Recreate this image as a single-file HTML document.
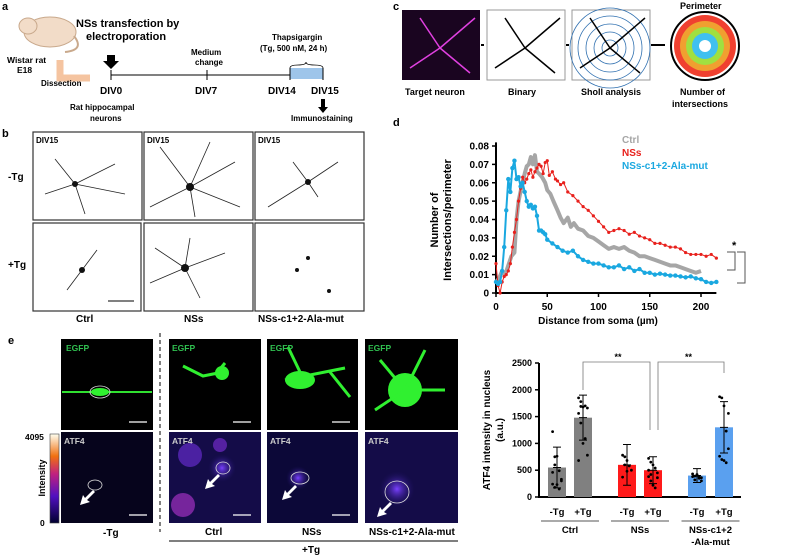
<!DOCTYPE html>
<html><head><meta charset="utf-8"><style>
body{margin:0;background:#fff}
svg{display:block;font-family:"Liberation Sans",Arial,sans-serif;font-weight:bold}
</style></head><body>
<svg id="fig" width="793" height="555" viewBox="0 0 793 555">
<defs>
<linearGradient id="cb" x1="0" y1="1" x2="0" y2="0"><stop offset="0" stop-color="#000030"/><stop offset="0.3" stop-color="#5010c0"/><stop offset="0.55" stop-color="#c02080"/><stop offset="0.75" stop-color="#f07010"/><stop offset="1" stop-color="#fffff0"/></linearGradient>
<radialGradient id="rg"><stop offset="0" stop-color="#7a40ff"/><stop offset="1" stop-color="#1a1060" stop-opacity="0"/></radialGradient>
</defs>
<!-- panel a -->
<g>
<text x="2" y="10" font-size="11">a</text>
<ellipse cx="50" cy="32" rx="26" ry="15" fill="#f2dcc8" stroke="#c9a98c"/>
<ellipse cx="28" cy="26" rx="9" ry="8" fill="#f2dcc8" stroke="#c9a98c"/>
<path d="M74 36 Q85 50 65 52" stroke="#c9a98c" fill="none" stroke-width="2"/>
<text x="76" y="27" font-size="11">NSs transfection by</text>
<text x="86" y="40" font-size="11">electroporation</text>
<text x="7" y="63" font-size="8.5">Wistar rat</text>
<text x="17" y="73" font-size="8.5">E18</text>
<path d="M60 60 L60 78 L90 78" stroke="#f5c4a0" stroke-width="7" fill="none"/>
<text x="41" y="86" font-size="8">Dissection</text>
<path d="M107 55 h8 v6 h4 l-8 8 l-8 -8 h4z" fill="#000"/>
<line x1="111" y1="75" x2="323" y2="75" stroke="#000"/>
<rect x="290" y="68" width="33" height="11" fill="#9ec5ea"/>
<line x1="111" y1="70" x2="111" y2="80" stroke="#000"/><line x1="207" y1="70" x2="207" y2="80" stroke="#000"/><line x1="290" y1="68" x2="290" y2="80" stroke="#000"/><line x1="323" y1="68" x2="323" y2="80" stroke="#000"/>
<path d="M290 68 q0 -3 8 -3 q8 0 8 -3 q0 3 8 3 q9 0 9 3" fill="none" stroke="#000" stroke-width="0.8"/>
<text x="191" y="55" font-size="8">Medium</text><text x="195" y="65" font-size="8">change</text>
<text x="272" y="40" font-size="8">Thapsigargin</text><text x="260" y="51" font-size="8">(Tg, 500 nM, 24 h)</text>
<text x="100" y="94" font-size="10">DIV0</text><text x="195" y="94" font-size="10">DIV7</text><text x="268" y="94" font-size="10">DIV14</text><text x="311" y="94" font-size="10">DIV15</text>
<text x="70" y="110" font-size="8">Rat hippocampal</text><text x="90" y="121" font-size="8">neurons</text>
<path d="M321 99 h4 v8 h3 l-5 6 l-5 -6 h3z" fill="#000"/>
<text x="291" y="121" font-size="8">Immunostaining</text>
</g>
<!-- panel b -->
<g font-size="10">
<text x="2" y="137" font-size="11">b</text>
<text x="8" y="180">-Tg</text><text x="8" y="268">+Tg</text>
<g fill="#fff" stroke="#333" stroke-width="1.2">
<rect x="33" y="132" width="109" height="88"/>
<rect x="144" y="132" width="109" height="88"/>
<rect x="255" y="132" width="109" height="88"/>
<rect x="33" y="223" width="108" height="88"/>
<rect x="144" y="223" width="109" height="88"/>
<rect x="255" y="223" width="109" height="88"/>
</g>
<g font-size="8"><text x="36" y="143">DIV15</text><text x="147" y="143">DIV15</text><text x="258" y="143">DIV15</text></g>
<g stroke="#222" fill="none" stroke-width="0.8">
<path d="M75 184 l-30 10 M75 184 l40 -20 M75 184 l10 30 M75 184 l-20 -25 M75 184 l50 10"/>
<path d="M190 187 l-40 20 M190 187 l45 -25 M190 187 l5 30 M190 187 l-30 -40 M190 187 l50 20 M190 187 l20 -45"/>
<path d="M308 182 l-40 25 M308 182 l30 -20 M308 182 l10 15 M308 182 l-15 -20"/>
<path d="M185 268 l-30 -20 M185 268 l40 -15 M185 268 l15 30 M185 268 l-35 15 M185 268 l5 -30"/>
<path d="M82 270 l-15 20 M82 270 l15 -20"/>
</g>
<g fill="#111"><circle cx="75" cy="184" r="3"/><circle cx="190" cy="187" r="4"/><circle cx="308" cy="182" r="3"/><circle cx="185" cy="268" r="4"/><circle cx="82" cy="270" r="3"/><circle cx="297" cy="270" r="2"/><circle cx="308" cy="258" r="2"/><circle cx="329" cy="291" r="2"/></g>
<line x1="108" y1="301" x2="134" y2="301" stroke="#000"/>
<text x="76" y="322">Ctrl</text><text x="184" y="322">NSs</text><text x="258" y="322">NSs-c1+2-Ala-mut</text>
</g>
<!-- panel c -->
<g font-size="9">
<text x="393" y="10" font-size="11">c</text>
<rect x="402" y="10" width="78" height="70" fill="#1a0520"/>
<path d="M440 48 l-30 20 M440 48 l35 -30 M440 48 l-20 -30 M440 48 l30 25" stroke="#e040e0" stroke-width="1.5"/>
<rect x="487" y="10" width="78" height="70" fill="#fff" stroke="#999"/>
<path d="M525 48 l-30 20 M525 48 l35 -30 M525 48 l-20 -30 M525 48 l30 25" stroke="#000" stroke-width="1.5"/>
<rect x="572" y="10" width="78" height="70" fill="#fff" stroke="#999"/>
<g fill="none" stroke="#3070b0" stroke-width="0.8"><circle cx="610" cy="48" r="8"/><circle cx="610" cy="48" r="16"/><circle cx="610" cy="48" r="24"/><circle cx="610" cy="48" r="32"/><circle cx="610" cy="48" r="40"/></g>
<path d="M610 48 l-30 20 M610 48 l35 -30 M610 48 l-20 -30 M610 48 l30 25" stroke="#000" stroke-width="1.5"/>
<path d="M481 45 h3 M566 45 h3 M651 45 h14" stroke="#000" stroke-width="2"/>
<circle cx="705" cy="46" r="34" fill="#fff" stroke="#000" stroke-width="2"/>
<circle cx="705" cy="46" r="31" fill="#f04030"/><circle cx="705" cy="46" r="25" fill="#f0a030"/><circle cx="705" cy="46" r="19" fill="#a0e040"/><circle cx="705" cy="46" r="13" fill="#40c0f0"/><circle cx="705" cy="46" r="6" fill="#fff"/>
<text x="680" y="9">Perimeter</text>
<text x="405" y="95">Target neuron</text><text x="508" y="95">Binary</text><text x="581" y="95">Sholl analysis</text>
<text x="680" y="95">Number of</text><text x="672" y="107">intersections</text>
</g>
<!-- panel d -->
<g id="pd" font-size="10">
<text x="393" y="126" font-size="11">d</text>
<text transform="translate(438,220) rotate(-90)" text-anchor="middle" font-size="11">Number of</text>
<text transform="translate(451,220) rotate(-90)" text-anchor="middle" font-size="11">Intersections/perimeter</text>
<text x="598" y="324" text-anchor="middle" font-size="10">Distance from soma (µm)</text>
<text x="622" y="143" fill="#a6a6a6" font-size="10">Ctrl</text>
<text x="622" y="156" fill="#e8201c" font-size="10">NSs</text>
<text x="622" y="169" fill="#1aa8e0" font-size="10">NSs-c1+2-Ala-mut</text>
<text x="732" y="249" font-size="11">*</text>
<path d="M727 252 h8 v18 h-8 M737 252 h8 v31 h-8" fill="none" stroke="#555"/>
</g>
<!-- panel e -->
<g font-size="8.5">
<text x="8" y="344" font-size="11">e</text>
<rect x="61" y="339" width="92" height="91" fill="#000"/>
<rect x="169" y="339" width="92" height="91" fill="#000"/>
<rect x="267" y="339" width="91" height="91" fill="#000"/>
<rect x="365" y="339" width="93" height="91" fill="#000"/>
<rect x="61" y="432" width="92" height="91" fill="#06041c"/>
<rect x="169" y="432" width="92" height="91" fill="#140c48"/>
<rect x="267" y="432" width="91" height="91" fill="#0c0838"/>
<rect x="365" y="432" width="93" height="91" fill="#140c48"/>
<path d="M62 392 h90" stroke="#30e030" stroke-width="2"/><ellipse cx="100" cy="392" rx="9" ry="4" fill="#30f030"/>
<path d="M183 366 l20 10 l25 -5 M215 375 l10 -12" stroke="#30f030" stroke-width="3" fill="none"/><circle cx="222" cy="373" r="7" fill="#30f030"/>
<path d="M285 380 l60 -12 M300 372 l-12 -25 M330 372 l20 25" stroke="#30f030" stroke-width="3" fill="none"/><ellipse cx="300" cy="380" rx="15" ry="9" fill="#30f030"/>
<circle cx="405" cy="390" r="17" fill="#30f030"/><path d="M405 390 l-25 -30 M405 390 l-30 20 M405 390 l20 -40 M405 390 l40 0" stroke="#30f030" stroke-width="3"/>
<g fill="#30c050"><text x="66" y="351">EGFP</text><text x="172" y="351">EGFP</text><text x="270" y="351">EGFP</text><text x="368" y="351">EGFP</text></g>
<g fill="#ccc"><text x="64" y="444">ATF4</text><text x="172" y="444">ATF4</text><text x="270" y="444">ATF4</text><text x="368" y="444">ATF4</text></g>
<circle cx="222" cy="468" r="14" fill="url(#rg)"/><circle cx="298" cy="478" r="12" fill="url(#rg)"/><circle cx="397" cy="489" r="18" fill="url(#rg)"/><circle cx="183" cy="505" r="12" fill="#a030c0" opacity="0.7"/><circle cx="190" cy="455" r="12" fill="#7030e0" opacity="0.6"/><circle cx="220" cy="445" r="7" fill="#8030e0" opacity="0.6"/>
<g fill="none" stroke="#ddd" stroke-width="0.8"><ellipse cx="100" cy="392" rx="10" ry="6"/><ellipse cx="95" cy="485" rx="7" ry="5"/><ellipse cx="223" cy="468" rx="7" ry="6"/><ellipse cx="300" cy="478" rx="9" ry="6"/><ellipse cx="397" cy="492" rx="12" ry="11"/></g>
<g fill="#fff"><path d="M93 490 l-8 8 l-2 -3 l-3 10 l10 -3 l-3 -2 l8 -8z"/><path d="M218 474 l-8 8 l-2 -3 l-3 10 l10 -3 l-3 -2 l8 -8z"/><path d="M295 485 l-8 8 l-2 -3 l-3 10 l10 -3 l-3 -2 l8 -8z"/><path d="M390 502 l-8 8 l-2 -3 l-3 10 l10 -3 l-3 -2 l8 -8z"/></g>
<g stroke="#fff" stroke-width="1.2"><line x1="129" y1="422" x2="147" y2="422"/><line x1="233" y1="422" x2="251" y2="422"/><line x1="332" y1="422" x2="350" y2="422"/><line x1="129" y1="515" x2="147" y2="515"/><line x1="233" y1="515" x2="251" y2="515"/><line x1="332" y1="515" x2="350" y2="515"/></g>
<rect x="50" y="434" width="9" height="89" fill="url(#cb)" stroke="#444" stroke-width="0.6"/>
<text x="25" y="440">4095</text><text x="40" y="526">0</text>
<text transform="translate(45,478) rotate(-90)" text-anchor="middle" font-size="9">Intensity</text>
<line x1="160" y1="333" x2="160" y2="532" stroke="#000" stroke-dasharray="4,3"/>
<g font-size="10"><text x="103" y="536">-Tg</text><text x="205" y="535">Ctrl</text><text x="302" y="535">NSs</text><text x="369" y="535">NSs-c1+2-Ala-mut</text><text x="302" y="553">+Tg</text></g>
<line x1="169" y1="541" x2="458" y2="541" stroke="#555" stroke-width="1.5"/>
</g>
<g id="pe" font-size="9"></g>
</svg>
<script>
const NS='http://www.w3.org/2000/svg';
function mk(p,t,a){const e=document.createElementNS(NS,t);for(const k in a)e.setAttribute(k,a[k]);p.appendChild(e);return e;}
// ---- Sholl chart data ----
const dTicksX=[0,50,100,150,200];
const dTicksY=[0,0.01,0.02,0.03,0.04,0.05,0.06,0.07,0.08];
const ctrlX=[0,3,6,9,12,15,18,20,22,25,28,30,32,34,36,38,40,42,45,48,50,53,56,60,63,66,70,73,76,80,85,90,95,100,105,110,115,120,125,130,135,140,145,150,155,160,165,170,175,180,185,190,195,200];
const ctrlY=[0.006,0.008,0.012,0.01,0.015,0.02,0.022,0.04,0.05,0.058,0.065,0.069,0.07,0.074,0.07,0.075,0.066,0.065,0.063,0.06,0.056,0.054,0.05,0.045,0.041,0.038,0.041,0.036,0.038,0.035,0.034,0.031,0.03,0.028,0.026,0.024,0.025,0.024,0.025,0.023,0.022,0.02,0.02,0.019,0.018,0.017,0.016,0.015,0.015,0.014,0.013,0.012,0.011,0.012];
const nssX=[0,2,4,6,8,10,12,14,16,18,20,22,24,26,28,30,32,34,36,38,40,42,44,46,48,50,52,55,58,60,63,66,70,75,80,85,90,95,100,105,110,115,120,125,130,135,140,145,150,155,160,165,170,175,180,185,190,195,200,205,210,215];
const nssY=[0.016,0.004,0.0,0.006,0.009,0.01,0.012,0.016,0.025,0.033,0.04,0.05,0.057,0.063,0.06,0.062,0.065,0.067,0.063,0.066,0.068,0.07,0.069,0.065,0.071,0.072,0.064,0.066,0.062,0.061,0.059,0.06,0.055,0.053,0.05,0.047,0.045,0.042,0.039,0.036,0.033,0.034,0.035,0.034,0.032,0.033,0.031,0.03,0.029,0.027,0.027,0.026,0.025,0.025,0.024,0.022,0.021,0.021,0.021,0.02,0.021,0.019];
const mutX=[0,2,4,6,8,10,12,14,16,18,20,22,24,26,28,30,32,34,36,38,40,42,44,46,48,50,55,60,65,70,75,80,85,90,95,100,105,110,115,120,125,130,135,140,145,150,155,160,165,170,175,180,185,190,195,200,205,210,215];
const mutY=[0.006,0.005,0.006,0.012,0.025,0.045,0.062,0.055,0.068,0.072,0.062,0.063,0.058,0.06,0.055,0.05,0.047,0.048,0.046,0.047,0.042,0.034,0.034,0.033,0.032,0.029,0.027,0.025,0.023,0.022,0.023,0.02,0.018,0.017,0.016,0.016,0.015,0.014,0.014,0.015,0.013,0.014,0.012,0.013,0.011,0.011,0.01,0.0105,0.01,0.0095,0.0095,0.009,0.0085,0.009,0.008,0.0075,0.006,0.0055,0.006];
const dx=v=>496+v*1.025, dy=v=>293-v*(147/0.08);
const pd=document.getElementById('pd');
let a=mk(pd,'line',{x1:dx(0),y1:dy(0),x2:dx(215),y2:dy(0),stroke:'#000','stroke-width':2});


a=mk(pd,'line',{x1:dx(0),y1:dy(0)+1,x2:dx(0),y2:dy(0.082),stroke:'#000','stroke-width':2});


dTicksX.forEach(v=>{mk(pd,'line',{x1:dx(v),y1:dy(0),x2:dx(v),y2:dy(0)+4,stroke:'#000','stroke-width':1.5});const t=mk(pd,'text',{x:dx(v),y:310,'text-anchor':'middle'});t.textContent=v;

});
dTicksY.forEach(v=>{mk(pd,'line',{x1:dx(0)-4,y1:dy(v),x2:dx(0),y2:dy(v),stroke:'#000','stroke-width':1.5});const t=mk(pd,'text',{x:489,y:dy(v)+3.5,'text-anchor':'end'});t.textContent=v===0?'0':v.toFixed(2);

});
function series(xs,ys,col,w,r,name){const g=mk(pd,'g',{});


mk(g,'polyline',{points:xs.map((x,i)=>dx(x)+','+dy(ys[i])).join(' '),fill:'none',stroke:col,'stroke-width':w,'stroke-linejoin':'round'});
if(r)xs.forEach((x,i)=>mk(g,'circle',{cx:dx(x),cy:dy(ys[i]),r:r,fill:col}));}
series(ctrlX,ctrlY,'#a6a6a6',4,0,'series-ctrl');
series(nssX,nssY,'#e8201c',1,1.6,'series-nss');
series(mutX,mutY,'#1aa8e0',2,2.2,'series-mut');
// ---- Bar chart data ----
const barLabels=['-Tg','+Tg','-Tg','+Tg','-Tg','+Tg'];
const barValues=[550,1480,600,500,400,1300];
const barErr=[380,420,380,250,130,480];
const barDots=[[1220,750,760,490,330,460,600,230,150,300,240,180],[1850,1780,1680,1700,1660,1560,1380,1000,1090,780,680,1690],[780,750,680,580,500,370,600,480],[720,650,600,540,450,380,300,220,170,360,500,420],[430,390,420,350,360,380,320,400,370,300],[1870,1850,1700,1230,900,760,700,680,640,1560]];
const barColors=['#808080','#808080','#ff1a1a','#ff1a1a','#5aa0ef','#5aa0ef'];
const barGroups=['Ctrl','NSs','NSs-c1+2'];
const eTicks=[0,500,1000,1500,2000,2500];
const ex=i=>557+[0,26,70,96,140,167][i], ey=v=>497-v*(134/2500);
const pe=document.getElementById('pe');
a=mk(pe,'line',{x1:539,y1:ey(0),x2:741,y2:ey(0),stroke:'#000','stroke-width':2});


a=mk(pe,'line',{x1:539,y1:ey(0)+1,x2:539,y2:ey(2500),stroke:'#000','stroke-width':2});


eTicks.forEach(v=>{mk(pe,'line',{x1:535,y1:ey(v),x2:539,y2:ey(v),stroke:'#000','stroke-width':1.5});const t=mk(pe,'text',{x:532,y:ey(v)+3,'text-anchor':'end'});t.textContent=v;

});
let t=mk(pe,'text',{transform:'translate(490,430) rotate(-90)','text-anchor':'middle','font-size':10});t.textContent='ATF4 intensity in nucleus';


t=mk(pe,'text',{transform:'translate(503,430) rotate(-90)','text-anchor':'middle','font-size':10});t.textContent='(a.u.)';
barValues.forEach((v,i)=>{const b=mk(pe,'rect',{x:ex(i)-9,y:ey(v),width:18,height:ey(0)-ey(v),fill:barColors[i]});


mk(pe,'path',{d:`M${ex(i)} ${ey(v-barErr[i])}V${ey(v+barErr[i])}M${ex(i)-4} ${ey(v-barErr[i])}h8M${ex(i)-4} ${ey(v+barErr[i])}h8M${ex(i)-4} ${ey(v)}h8`,stroke:'#000','stroke-width':1,fill:'none'});
barDots[i].forEach((d,j)=>mk(pe,'circle',{cx:ex(i)+((j%5)-2)*2.2,cy:ey(d),r:1.4,fill:'#000'}));
const l=mk(pe,'text',{x:ex(i),y:515,'text-anchor':'middle','font-size':9.5});l.textContent=barLabels[i];

});
barGroups.forEach((g,k)=>{const c=(ex(2*k)+ex(2*k+1))/2;mk(pe,'line',{x1:c-29,y1:521,x2:c+29,y2:521,stroke:'#555'});const l=mk(pe,'text',{x:c,y:533,'text-anchor':'middle','font-size':9.5});l.textContent=g;

});
t=mk(pe,'text',{x:(ex(4)+ex(5))/2,y:545,'text-anchor':'middle','font-size':9.5});t.textContent='-Ala-mut';
mk(pe,'path',{d:`M${ex(1)} 390V362H${ex(3)-3}V430M${ex(3)+5} 430V362H${ex(5)}V373`,fill:'none',stroke:'#777','stroke-width':0.8});
t=mk(pe,'text',{x:(ex(1)+ex(3))/2,y:360,'text-anchor':'middle'});t.textContent='**';
t=mk(pe,'text',{x:(ex(3)+ex(5))/2,y:360,'text-anchor':'middle'});t.textContent='**';
</script>
</body></html>
